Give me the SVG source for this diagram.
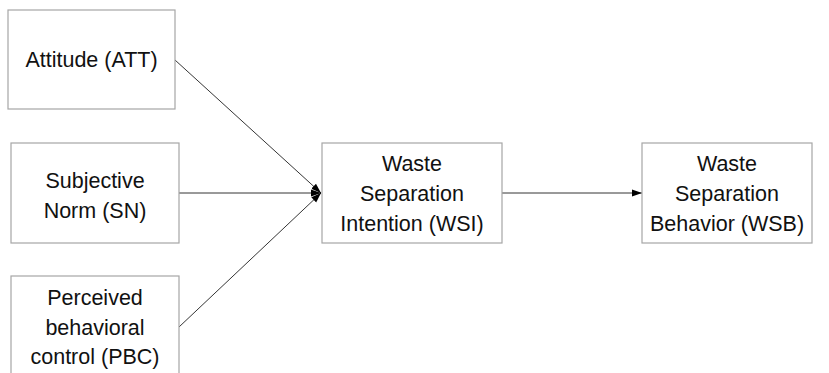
<svg xmlns="http://www.w3.org/2000/svg" width="829" height="373" viewBox="0 0 829 373">
<style>
.box{fill:#fff;stroke:#a6a6a6;stroke-width:1.2}
.t{font-family:"Liberation Sans",Arial,sans-serif;font-size:21.5px;fill:#111;text-anchor:middle}
.c{stroke:#000;stroke-width:0.8;fill:none;marker-end:url(#ah)}
</style>
<defs>
<marker id="ah" markerWidth="11" markerHeight="9" refX="10" refY="4.5" orient="auto" markerUnits="userSpaceOnUse">
<path d="M0,1 L10,4.5 L0,8 Z" fill="#000"/>
</marker>
</defs>
<rect width="829" height="373" fill="#fff"/>
<g id="connectors">
<line class="c" x1="175" y1="60" x2="321" y2="193"/>
<line class="c" x1="179" y1="193" x2="321" y2="193"/>
<line class="c" x1="179" y1="327" x2="321" y2="193"/>
<line class="c" x1="502" y1="193" x2="642" y2="193"/>
</g>
<g id="att">
<rect class="box" x="8" y="10" width="167" height="99"/>
<text class="t" x="91.5" y="67">Attitude (ATT)</text>
</g>
<g id="sn">
<rect class="box" x="11" y="143" width="168" height="100"/>
<text class="t" x="95" y="188">Subjective</text>
<text class="t" x="95" y="218">Norm (SN)</text>
</g>
<g id="pbc">
<rect class="box" x="11" y="276" width="168" height="110"/>
<text class="t" x="95" y="305">Perceived</text>
<text class="t" x="95" y="335">behavioral</text>
<text class="t" x="95" y="364">control (PBC)</text>
</g>
<g id="wsi">
<rect class="box" x="322" y="143" width="180" height="100"/>
<text class="t" x="412" y="171">Waste</text>
<text class="t" x="412" y="201">Separation</text>
<text class="t" x="412" y="231">Intention (WSI)</text>
</g>
<g id="wsb">
<rect class="box" x="642" y="143" width="170" height="100"/>
<text class="t" x="727" y="171">Waste</text>
<text class="t" x="727" y="201">Separation</text>
<text class="t" x="727" y="231">Behavior (WSB)</text>
</g>
</svg>
